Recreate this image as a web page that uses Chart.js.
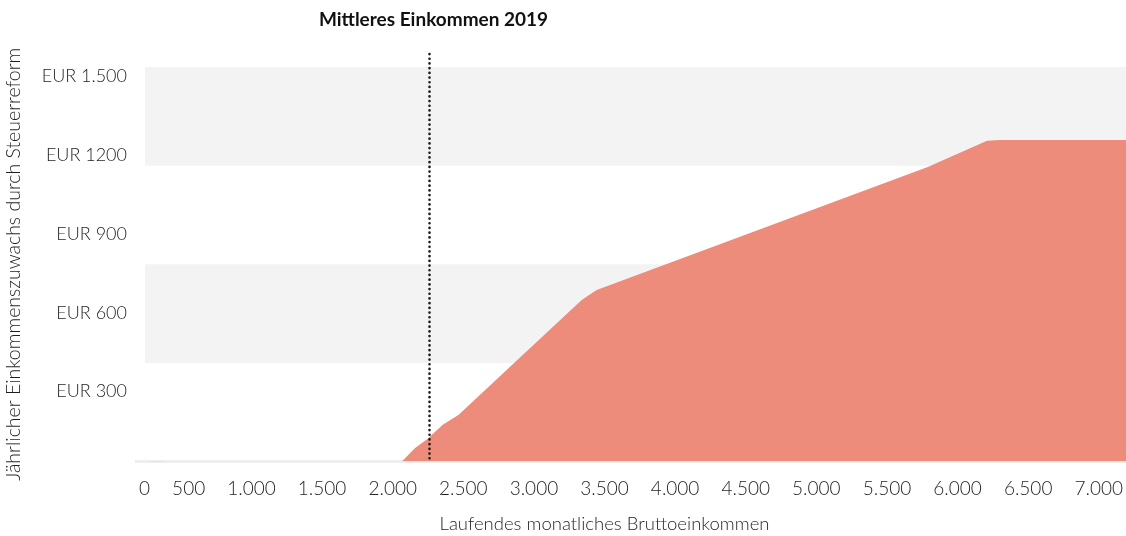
<!DOCTYPE html>
<html lang="de">
<head>
<meta charset="utf-8">
<title>Einkommenszuwachs durch Steuerreform</title>
<script src="https://cdn.jsdelivr.net/npm/chart.js@4.4.1/dist/chart.umd.min.js"></script>
<style>
  html, body { margin: 0; padding: 0; background: #fff; }
  #wrap { width: 1126px; height: 536px; position: relative; }
</style>
</head>
<body>
<div id="wrap"><canvas id="chart"></canvas></div>
<script>
// laufendes monatliches Bruttoeinkommen (EUR) -> jährlicher Zuwachs (EUR)
const incomeMonthly = [0, 35, 40, 130, 135, 1885, 1980, 2070, 2185, 2300, 3205, 3315, 5745, 6180, 6275, 7200];
const annualGain = [0, 0, 2, 2, 0, 0, 50, 85, 140, 177, 614, 652, 1120, 1220, 1222, 1222];

const xTickLabels = ['0', '500', '1.000', '1.500', '2.000', '2.500', '3.000', '3.500',
  '4.000', '4.500', '5.000', '5.500', '6.000', '6.500', '7.000'];
const yTickValues = [0, 300, 600, 900, 1200, 1500];
const yTickLabels = ['', 'EUR 300', 'EUR 600', 'EUR 900', 'EUR 1200', 'EUR 1.500'];

// abwechselnd graue Hintergrundstreifen
const bandRanges = [[375, 750], [1125, 1500]];

const medianIncome = 2085;
const medianLabel = 'Mittleres Einkommen 2019';
const xTitle = 'Laufendes monatliches Bruttoeinkommen';

const FONT = 'Lato, "Open Sans", sans-serif';
const TEXT = '#1f1f1f';
const xTickFont = { family: FONT, size: 19, weight: 300 };

const bands = {
  id: 'bands',
  beforeDraw(chart) {
    const { ctx, chartArea, scales } = chart;
    ctx.save();
    ctx.fillStyle = '#f3f3f3';
    bandRanges.forEach(([lo, hi]) => {
      const top = scales.y.getPixelForValue(hi);
      const bottom = scales.y.getPixelForValue(lo);
      ctx.fillRect(chartArea.left, top, chartArea.right - chartArea.left, bottom - top);
    });
    ctx.restore();
  }
};

const medianMarker = {
  id: 'medianMarker',
  afterDatasetsDraw(chart) {
    const { ctx, chartArea, scales } = chart;
    const x = Math.round(scales.x.getPixelForValue(medianIncome)) + 0.5;
    ctx.save();
    ctx.strokeStyle = '#1a1a1a';
    ctx.lineWidth = 2.6;
    ctx.lineCap = 'round';
    ctx.setLineDash([0.1, 4.6]);
    ctx.beginPath();
    ctx.moveTo(x, 54);
    ctx.lineTo(x, chartArea.bottom);
    ctx.stroke();
    ctx.setLineDash([]);
    ctx.fillStyle = '#111';
    ctx.font = 'bold 19px ' + FONT;
    ctx.textAlign = 'center';
    ctx.textBaseline = 'middle';
    ctx.fillText(medianLabel, x + 4, 20);
    ctx.restore();
  }
};

// x-Achsentitel, etwas links der Achsenmitte
const xAxisTitle = {
  id: 'xAxisTitle',
  afterDraw(chart) {
    const { ctx, chartArea } = chart;
    ctx.save();
    ctx.fillStyle = TEXT;
    ctx.font = '300 18.5px ' + FONT;
    ctx.textAlign = 'center';
    ctx.textBaseline = 'middle';
    ctx.fillText(xTitle, (chartArea.left + chartArea.right) / 2 - 31, 524);
    ctx.restore();
  }
};

new Chart(document.getElementById('chart'), {
  type: 'line',
  data: {
    datasets: [{
      label: 'Jährlicher Einkommenszuwachs',
      data: incomeMonthly.map((v, i) => ({ x: v, y: annualGain[i] })),
      backgroundColor: '#ed8c7b',
      borderWidth: 0,
      pointRadius: 0,
      tension: 0,
      fill: 'origin'
    }]
  },
  options: {
    responsive: true,
    maintainAspectRatio: false,
    animation: false,
    layout: { padding: { top: 67, right: 0, left: 0, bottom: 0 } },
    plugins: {
      legend: { display: false },
      tooltip: { enabled: false }
    },
    scales: {
      x: {
        type: 'linear',
        min: 0,
        max: 7200,
        grid: { display: false },
        border: { display: false },
        ticks: {
          autoSkip: false,
          maxRotation: 0,
          padding: 8,
          color: TEXT,
          font: xTickFont,
          callback: (v, i) => xTickLabels[i]
        },
        // labels sit with equal gaps between them across the axis
        afterBuildTicks(scale) {
          const ctx = scale.ctx;
          ctx.save();
          ctx.font = xTickFont.weight + ' ' + xTickFont.size + 'px ' + FONT;
          const widths = xTickLabels.map(t => ctx.measureText(t).width);
          ctx.restore();
          const start = -6, end = scale.width - 3;
          const total = widths.reduce((a, b) => a + b, 0);
          const gap = (end - start - total) / (xTickLabels.length - 1);
          let pos = start;
          scale.ticks = widths.map(w => {
            const center = pos + w / 2;
            pos += w + gap;
            return { value: scale.min + center / scale.width * (scale.max - scale.min) };
          });
        },
        afterFit(scale) {
          scale.height = 74.5;
          scale.paddingLeft = 0;
          scale.paddingRight = 0;
        }
      },
      y: {
        min: 0,
        max: 1500,
        afterBuildTicks(scale) {
          scale.ticks = yTickValues.map(v => ({ value: v }));
        },
        afterFit(scale) {
          scale.width = 145;
        },
        grid: {
          drawOnChartArea: true,
          drawTicks: true,
          tickLength: 10,
          lineWidth: 3,
          color: c => (c.tick && c.tick.value === 0 ? '#eeeeee' : 'rgba(0,0,0,0)')
        },
        border: { display: false },
        ticks: {
          padding: 8,
          labelOffset: 9,
          color: TEXT,
          font: { family: FONT, size: 18, weight: 300 },
          callback: (v, i) => yTickLabels[i]
        },
        title: {
          display: true,
          text: 'Jährlicher Einkommenszuwachs durch Steuerreform',
          color: TEXT,
          font: { family: FONT, size: 19.5, weight: 300 },
          padding: { top: 2, bottom: 0 }
        }
      }
    }
  },
  plugins: [bands, medianMarker, xAxisTitle]
});
</script>
</body>
</html>
